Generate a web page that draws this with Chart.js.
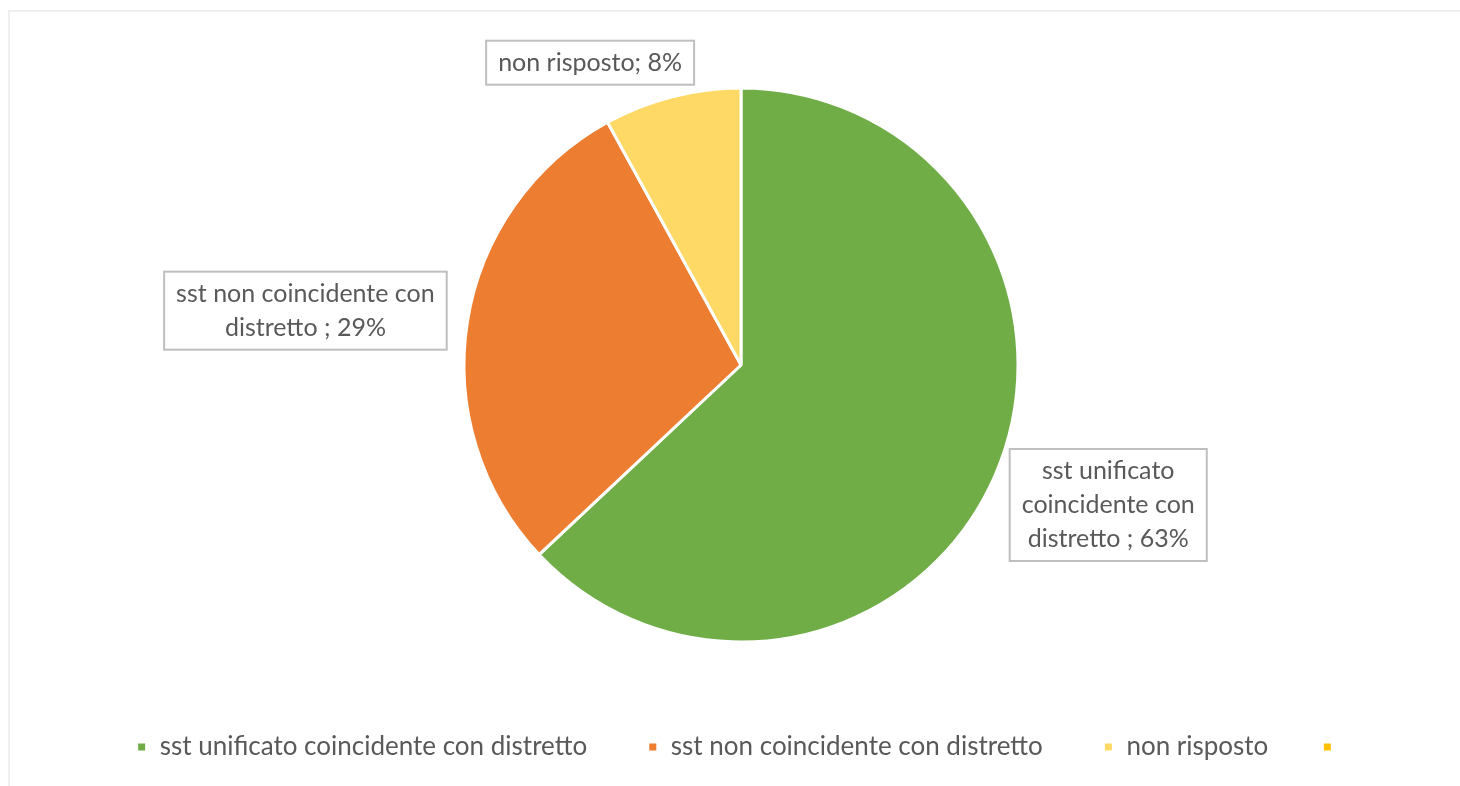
<!DOCTYPE html>
<html>
<head>
<meta charset="utf-8">
<script src="https://cdn.jsdelivr.net/npm/chart.js@4.4.1/dist/chart.umd.min.js"></script>
<style>
  html, body { margin: 0; padding: 0; background: #fff; }
  #frame { position: absolute; left: 8px; top: 10px; right: 0; bottom: 0; border-top: 2px solid #efefef; border-left: 2px solid #efefef; }
  #wrap { position: absolute; left: 0; top: 0; width: 1460px; height: 786px; }
</style>
</head>
<body>
<div id="frame"></div>
<div id="wrap"><canvas id="pieChart" width="1460" height="786"></canvas></div>
<script>
// ========== SST vs DISTRETTO — pie ==========
var categories = ['sst unificato coincidente con distretto ', 'sst non coincidente con distretto ', 'non risposto', ''];
var values = [63, 29, 8, 0];
var sliceColors = ['#70AD47', '#ED7D31', '#FFD966', '#FFC000'];

var FONT = 'Lato, "Open Sans", sans-serif';
var TEXT_COLOR = '#595959';

// boxed data labels, placed from each arc's outer edge (Excel "best fit" look)
var boxedLabels = {
    id: 'boxedLabels',
    afterDatasetsDraw: function(chart, args, opts) {
        var ctx = chart.ctx;
        var meta = chart.getDatasetMeta(0);
        ctx.save();
        ctx.font = opts.size + 'px ' + FONT;
        ctx.textAlign = 'center';
        ctx.textBaseline = 'middle';
        meta.data.forEach(function(arc, i) {
            var v = values[i];
            if (!v) return;
            var p = arc.getProps(['x', 'y', 'startAngle', 'endAngle', 'outerRadius'], true);
            var mid = (p.startAngle + p.endAngle) / 2;
            var ax = p.x + Math.cos(mid) * p.outerRadius;
            var ay = p.y + Math.sin(mid) * p.outerRadius;
            var text = categories[i] + '; ' + v + '%';

            // word wrap
            var words = text.split(' ').filter(function(w) { return w.length; });
            var lines = [], cur = '';
            words.forEach(function(w) {
                var t = cur ? cur + ' ' + w : w;
                if (cur && ctx.measureText(t).width > opts.wrap[i]) { lines.push(cur); cur = w; }
                else cur = t;
            });
            if (cur) lines.push(cur);

            var w = 0;
            lines.forEach(function(l) { w = Math.max(w, ctx.measureText(l).width); });
            var bw = w + opts.padX * 2;
            var bh = lines.length * opts.lineHeight + opts.padY * 2;
            var cx = ax + opts.offsets[i][0];
            var cy = ay + opts.offsets[i][1];

            ctx.fillStyle = '#fff';
            ctx.fillRect(cx - bw / 2, cy - bh / 2, bw, bh);
            ctx.strokeStyle = '#bfbfbf';
            ctx.lineWidth = 2;
            ctx.strokeRect(cx - bw / 2, cy - bh / 2, bw, bh);

            ctx.fillStyle = TEXT_COLOR;
            lines.forEach(function(l, k) {
                ctx.fillText(l, cx, cy - bh / 2 + opts.padY + opts.lineHeight * (k + 0.5));
            });
        });
        ctx.restore();
    }
};

new Chart(document.getElementById('pieChart').getContext('2d'), {
    type: 'pie',
    data: {
        labels: categories,
        datasets: [{
            data: values,
            backgroundColor: sliceColors,
            borderColor: '#ffffff',
            borderWidth: 3
        }]
    },
    options: {
        responsive: false,
        animation: false,
        radius: 277,
        layout: { padding: { left: 22, right: 0, top: 50, bottom: 16 } },
        plugins: {
            legend: {
                position: 'bottom',
                labels: {
                    boxWidth: 10,
                    boxHeight: 10,
                    padding: 54,
                    color: TEXT_COLOR,
                    font: { family: FONT, size: 26 }
                }
            },
            tooltip: { enabled: false },
            boxedLabels: {
                size: 25,
                lineHeight: 34,
                padX: 12,
                padY: 5,
                wrap: [200, 270, 320],
                offsets: [[113, 30], [-162, -11], [-82, -34]]
            }
        }
    },
    plugins: [boxedLabels]
});
</script>
</body>
</html>
